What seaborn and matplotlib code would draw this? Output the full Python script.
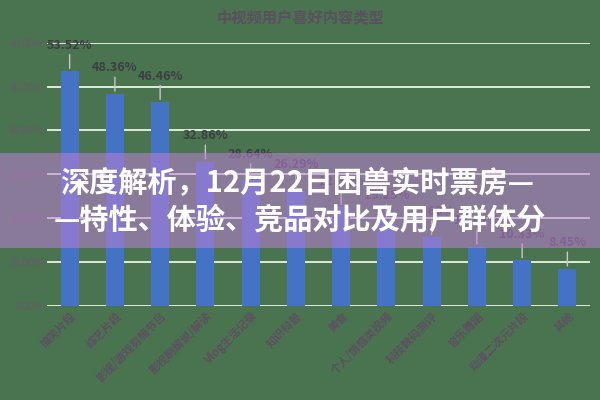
import matplotlib
matplotlib.use("Agg")
import matplotlib.pyplot as plt
import seaborn as sns
import pandas as pd
from matplotlib.patches import Rectangle

title = "中视频用户喜好内容类型"
categories = ["搞笑片段", "综艺片段", "影视/游戏剪辑节目", "影视剧解说/解读",
              "Vlog生活记录", "知识科普", "美食", "个人/情感类视频",
              "科技数码测评", "音乐舞蹈", "动漫二次元片段", "其他"]
values = [53.52, 48.36, 46.46, 32.86, 28.64, 26.29, 22.50, 19.25, 15.60, 13.42, 10.33, 8.45]
y_ticks = [0, 10, 20, 30, 40, 50, 60]
banner_lines = ["深度解析，12月22日困兽实时票房—", "—特性、体验、竞品对比及用户群体分"]

sns.set_theme(style="white")
plt.rcParams['font.family'] = ['Noto Sans CJK SC', 'DejaVu Sans']

bg = "#4a7350"
df = pd.DataFrame({"cat": categories, "val": values})

fig = plt.figure(figsize=(6, 4), dpi=100, facecolor=bg)
ax = fig.add_axes([47/600, 1 - 305.7/400, 543/600, (305.7 - 42.8)/400])
ax.set_facecolor(bg)

sns.barplot(data=df, x="cat", y="val", color="#4472c4", width=0.4, saturation=1,
            linewidth=0, edgecolor="none", ax=ax, zorder=3)

ax.set_ylim(0, 60)
ax.set_xlim(-0.5, len(categories) - 0.5)
ax.set_yticks(y_ticks)
ax.set_yticklabels([f"{t:.2f}%" for t in y_ticks], fontsize=7, color="#6b5a6e")
for t in y_ticks:
    ax.axhline(t, color="#dcecd8", lw=1.4, zorder=1)
ax.tick_params(axis="both", length=0, pad=3)
ax.set_xlabel("")
ax.set_ylabel("")
for s in ax.spines.values():
    s.set_visible(False)
ax.set_xticks(range(len(categories)))
ax.set_xticklabels(categories, rotation=45, ha="right", rotation_mode="anchor",
                   fontsize=8, color="#5e4f62", fontweight="bold")

# data labels with leader lines
for i, v in enumerate(values):
    ax.annotate("", xy=(i, v), xytext=(0, 14), textcoords="offset points",
                arrowprops=dict(arrowstyle="-", color="#c8c8c8", lw=1.0), zorder=4)
    ax.annotate(f"{v:.2f}%", xy=(i, v), xytext=(0, 14), textcoords="offset points",
                ha="center", va="bottom", fontsize=9, fontweight="bold", color="#3d3d44", zorder=5)

fig.text(0.5, 1 - 17/400, title, ha="center", va="center", fontsize=11,
         fontweight="bold", color="#5b4f60")

# translucent banner overlay
fig.add_artist(Rectangle((0, 1 - 248/400), 1, (248 - 153)/400, transform=fig.transFigure,
                         facecolor=(191/255, 128/255, 216/255), alpha=0.55, edgecolor="none", zorder=10))
fig.text(0.495, 1 - 183/400, banner_lines[0], ha="center", va="center", fontsize=21,
         fontweight="bold", color="white", zorder=11)
fig.text(0.5, 1 - 219/400, banner_lines[1], ha="center", va="center", fontsize=21,
         fontweight="bold", color="white", zorder=11)

fig.savefig("out.png", dpi=100, facecolor=bg)
